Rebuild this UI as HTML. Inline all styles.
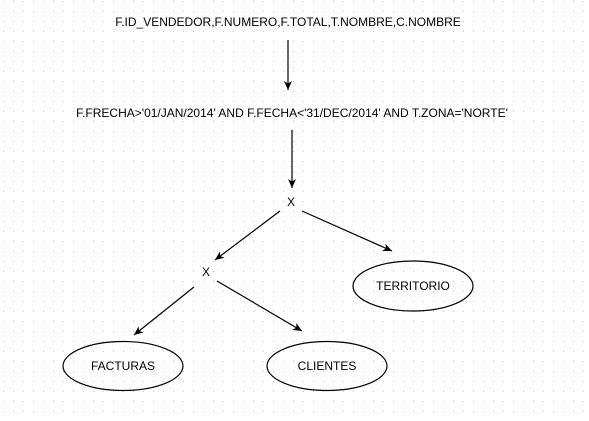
<!DOCTYPE html>
<html><head><meta charset="utf-8"><style>
html,body{margin:0;padding:0;background:#fff;}
svg{display:block;}
text{font-family:"Liberation Sans",Arial,sans-serif;font-size:12px;fill:#000;}
</style></head><body>
<svg width="589" height="421" viewBox="0 0 589 421" xmlns="http://www.w3.org/2000/svg">
<defs>
<pattern id="g" width="10" height="10" patternUnits="userSpaceOnUse" x="3" y="1">
<rect x="0" y="0" width="1" height="1" fill="#c8c8c8"/>
</pattern>
<marker id="a" markerWidth="10" markerHeight="10" refX="9" refY="5" orient="auto" markerUnits="userSpaceOnUse">
<path d="M0,1 L9,5 L0,9 L2.5,5 Z" fill="#000"/>
</marker>
</defs>
<rect width="589" height="421" fill="url(#g)"/>
<text x="288" y="26" text-anchor="middle">F.ID_VENDEDOR,F.NUMERO,F.TOTAL,T.NOMBRE,C.NOMBRE</text>
<text x="292" y="117" text-anchor="middle">F.FRECHA&gt;'01/JAN/2014' AND F.FECHA&lt;'31/DEC/2014' AND T.ZONA='NORTE'</text>
<g stroke="#000" stroke-width="1.2" fill="none">
<line x1="288" y1="40" x2="288" y2="90" marker-end="url(#a)"/>
<line x1="292" y1="130" x2="292" y2="188" marker-end="url(#a)"/>
<line x1="280" y1="211" x2="215" y2="260" marker-end="url(#a)"/>
<line x1="302" y1="211" x2="392" y2="251" marker-end="url(#a)"/>
<line x1="217" y1="281" x2="302" y2="331" marker-end="url(#a)"/>
<line x1="194" y1="287" x2="134" y2="335" marker-end="url(#a)"/>
<ellipse cx="413" cy="286" rx="60" ry="25"/>
<ellipse cx="123" cy="366" rx="60" ry="24.5"/>
<ellipse cx="327" cy="366" rx="60" ry="24.5"/>
</g>
<text x="291" y="206" text-anchor="middle">X</text>
<text x="206" y="276" text-anchor="middle">X</text>
<text x="413" y="290" text-anchor="middle">TERRITORIO</text>
<text x="123" y="370" text-anchor="middle">FACTURAS</text>
<text x="327" y="370" text-anchor="middle">CLIENTES</text>
</svg>
</body></html>
